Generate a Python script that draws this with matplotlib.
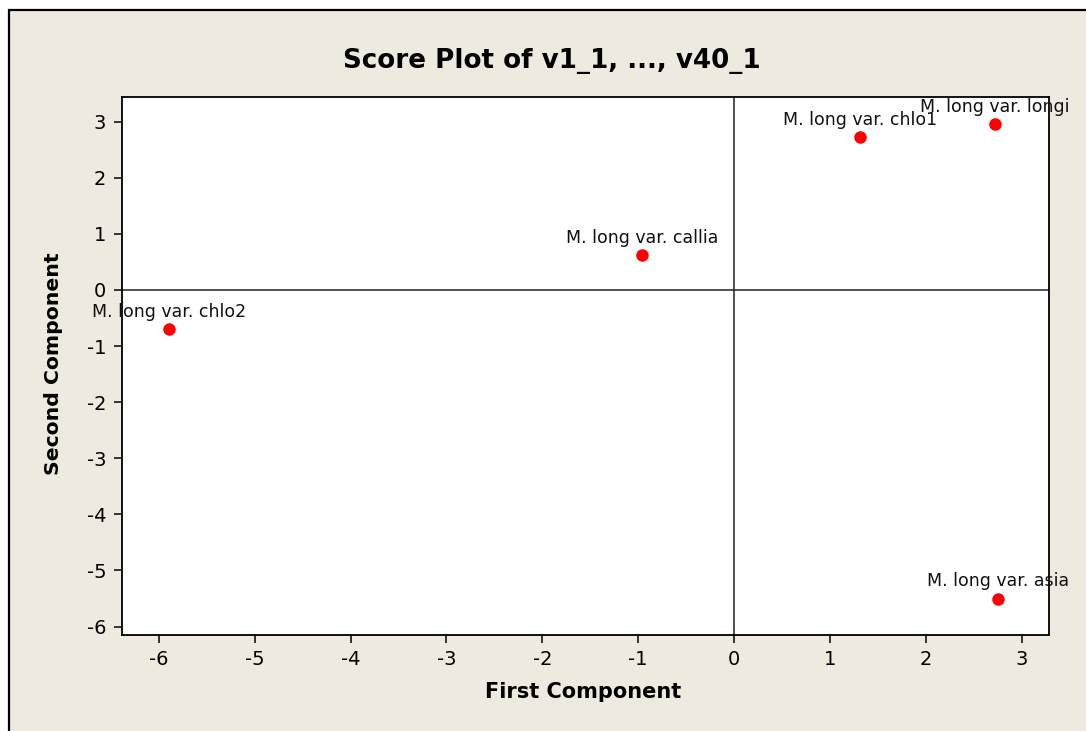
import matplotlib
matplotlib.use("Agg")
import matplotlib.pyplot as plt
from matplotlib.patches import Rectangle

# Data
labels = ["M. long var. chlo2", "M. long var. callia", "M. long var. chlo1",
          "M. long var. longi", "M. long var. asia"]
first_comp = [-5.89, -0.96, 1.31, 2.72, 2.75]
second_comp = [-0.70, 0.62, 2.72, 2.96, -5.50]
x_ticks = [-6, -5, -4, -3, -2, -1, 0, 1, 2, 3]
y_ticks = [-6, -5, -4, -3, -2, -1, 0, 1, 2, 3]

W, H = 1086, 731
fig = plt.figure(figsize=(W / 100, H / 100), dpi=100)
fig.patch.set_facecolor("white")

bg = "#EEEAE0"
rect = Rectangle((9 / W, -0.1), 1.2, 1 - 10 / H + 0.1, transform=fig.transFigure,
                 facecolor=bg, edgecolor="black", linewidth=1.6, clip_on=False,
                 zorder=-10)
fig.patches.append(rect)

ax = fig.add_axes([121.5 / W, 96 / H, 927 / W, (633.7 - 96) / H])
ax.set_zorder(1)
ax.set_facecolor("white")
ax.set_xlim(-6.39, 3.28)
ax.set_ylim(-6.15, 3.435)

ax.axhline(0, color="#222222", lw=1.1, zorder=1)
ax.axvline(0, color="#222222", lw=1.1, zorder=1)

ax.plot(first_comp, second_comp, "o", color="#FF0000", markersize=9,
        markeredgewidth=0, zorder=3)
for lab, xv, yv in zip(labels, first_comp, second_comp):
    ax.annotate(lab, (xv, yv), xytext=(0, 8.8), textcoords="offset points",
                ha="center", va="baseline", fontsize=12.5, color="#111111",
                annotation_clip=False, zorder=4)

ax.set_xticks(x_ticks)
ax.set_yticks(y_ticks)
ax.set_xticklabels([str(v) for v in x_ticks])
ax.set_yticklabels([str(v) for v in y_ticks])
ax.tick_params(direction="out", length=6, width=1.1, labelsize=14, pad=5,
               colors="black")
for s in ax.spines.values():
    s.set_linewidth(1.3)
    s.set_color("black")

fig.text(551.7 / W, 1 - 61 / H, "Score Plot of v1_1, ..., v40_1", ha="center",
         va="center", fontsize=18.8, fontweight="bold")
fig.text(583.3 / W, 1 - 692 / H, "First Component", ha="center", va="center",
         fontsize=15, fontweight="bold")
fig.text(54 / W, 1 - 364 / H, "Second Component", ha="center", va="center",
         fontsize=14.7, fontweight="bold", rotation=90)

fig.savefig("out.png", dpi=100, facecolor=fig.get_facecolor())
